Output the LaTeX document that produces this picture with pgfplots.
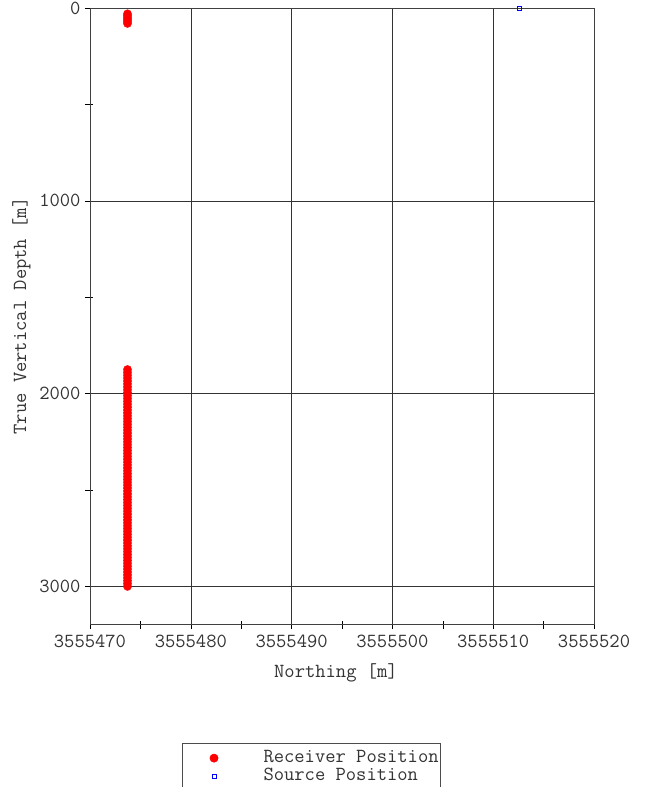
\documentclass[border=0pt]{standalone}
\usepackage{pgfplots}
\usepackage{pgfplotstable}
\pgfplotsset{compat=1.18}
% Receiver positions: Northing offset from 3555470 m, true vertical depth in m
\pgfplotstableread{
x y
3.72 30
3.72 40
3.72 50
3.72 60
3.72 70
3.72 80
3.72 1875
3.72 1890
3.72 1905
3.72 1920
3.72 1935
3.72 1950
3.72 1965
3.72 1980
3.72 1995
3.72 2010
3.72 2025
3.72 2040
3.72 2055
3.72 2070
3.72 2085
3.72 2100
3.72 2115
3.72 2130
3.72 2145
3.72 2160
3.72 2175
3.72 2190
3.72 2205
3.72 2220
3.72 2235
3.72 2250
3.72 2265
3.72 2280
3.72 2295
3.72 2310
3.72 2325
3.72 2340
3.72 2355
3.72 2370
3.72 2385
3.72 2400
3.72 2415
3.72 2430
3.72 2445
3.72 2460
3.72 2475
3.72 2490
3.72 2505
3.72 2520
3.72 2535
3.72 2550
3.72 2565
3.72 2580
3.72 2595
3.72 2610
3.72 2625
3.72 2640
3.72 2655
3.72 2670
3.72 2685
3.72 2700
3.72 2715
3.72 2730
3.72 2745
3.72 2760
3.72 2775
3.72 2790
3.72 2805
3.72 2820
3.72 2835
3.72 2850
3.72 2865
3.72 2880
3.72 2895
3.72 2910
3.72 2925
3.72 2940
3.72 2955
3.72 2970
3.72 2985
3.72 3000
}\receivers
\pgfplotstableread{
x y
42.56 0
}\sources
\begin{document}
\begin{tikzpicture}[font=\ttfamily\fontsize{20}{23}\selectfont]
\useasboundingbox (0pt,0pt) rectangle (646pt,-787pt);
\begin{axis}[
  at={(90pt,-8pt)}, anchor=north west,
  scale only axis, width=504pt, height=616pt,
  xmin=0, xmax=50, ymin=0, ymax=3195,
  y dir=reverse,
  xtick={0,10,20,30,40,50},
  xticklabels={3555470,3555480,3555490,3555500,3555510,3555520},
  minor x tick num=1,
  ytick={0,1000,2000,3000},
  minor y tick num=1,
  /pgf/number format/assume math mode=true,
  /pgf/number format/1000 sep={},
  tick pos=left,
  tick align=outside,
  major tick length=5pt,
  minor tick length=8pt,
  minor x tick style={yshift=3pt},
  minor y tick style={xshift=3pt},
  grid=major,
  grid style={black!80, line width=0.6pt},
  axis line style={black!75, line width=0.6pt},
  tick style={black, line width=0.6pt},
  ticklabel style={text=black!80},
  xticklabel style={yshift=-2pt},
  yticklabel style={xshift=-1pt},
  xlabel={Northing [m]},
  ylabel={True Vertical Depth [m]},
  label style={text=black!80},
  xlabel style={at={(axis description cs:0.488,-0.08)}, anchor=center},
  ylabel style={at={(axis description cs:-0.136,0.5)}, anchor=center, rotate=0},
  legend image code/.code={\path[draw=none,fill=none] (0pt,0pt) -- (80pt,0pt); \draw[#1] plot coordinates {(32pt,0pt)};},
  legend style={at={(0.182,-0.1937)}, anchor=north west, draw=black!70,
    line width=0.6pt, inner xsep=0pt, inner ysep=6.5pt, row sep=2pt,
    font=\ttfamily\fontsize{20}{23}\selectfont, text=black!80,
    nodes={inner xsep=1.5pt, inner ysep=0pt, text height=12pt, text depth=4pt}},
  legend cell align=left,
]
\addplot[only marks, mark=*, mark size=4.1pt, color=red, mark options={draw=red, fill=red}] table[x=x, y=y] {\receivers};
\addlegendentry{Receiver Position}
\addplot[only marks, mark=square, mark size=1.8pt, color=blue, mark options={draw=blue, fill=white, line width=0.6pt}] table[x=x, y=y] {\sources};
\addlegendentry{Source Position}
\end{axis}
\end{tikzpicture}
\end{document}
